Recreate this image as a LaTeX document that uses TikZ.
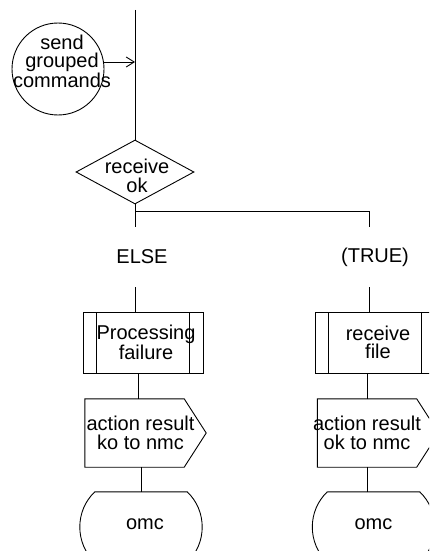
\documentclass[tikz,border=0pt]{standalone}
\usepackage{fontspec}
\setmainfont{Liberation Sans}
\usetikzlibrary{arrows.meta,shapes.geometric}
\newcommand{\sdlfont}{\fontsize{20}{18.5}\selectfont}
% outline of an output signal and of a state, drawn round a plain node
\newcommand{\sdloutput}[1]{\draw[flow] (#1.north west) -- (#1.north east) -- ([xshift=22]#1.east) -- (#1.south east) -- (#1.south west) -- cycle;}
\newcommand{\sdlstate}[1]{\draw[flow] (#1.north west) -- (#1.north east) .. controls ([xshift=20,yshift=-19]#1.north east) and ([xshift=20,yshift=19]#1.south east) .. (#1.south east) -- (#1.south west) .. controls ([xshift=-20,yshift=19]#1.south west) and ([xshift=-20,yshift=-19]#1.north west) .. (#1.north west);}
\tikzset{
  sdl/.style={draw, line width=0.9pt, inner sep=0pt},
  sdl text/.style={align=center, font=\sdlfont, inner sep=0pt},
  start sym/.style={sdl, circle, minimum size=92},
  decision sym/.style={sdl, diamond, minimum width=118, minimum height=64},
  proc sym/.style={
    sdl, rectangle, minimum width=120, minimum height=61,
    path picture={
      \draw[flow] ([xshift=13]path picture bounding box.north west) -- ([xshift=13]path picture bounding box.south west);
      \draw[flow] ([xshift=-14]path picture bounding box.north east) -- ([xshift=-14]path picture bounding box.south east);
    }
  },
  out sym/.style={rectangle, inner sep=0pt, minimum width=99, minimum height=68},
  state sym/.style={rectangle, inner sep=0pt, minimum width=92, minimum height=70},
  branch label/.style={font=\sdlfont, inner sep=0pt, minimum height=60},
  flow/.style={line width=0.9pt},
  flow arrow/.style={flow, -{Straight Barb[length=8pt,width=10pt]}}
}

\begin{document}
\begin{tikzpicture}[x=1pt,y=-1pt]
  \clip (0,0) rectangle (429,551);
  \coordinate (top) at (135,10);
  \coordinate (join) at (135,62);
  \coordinate (fork) at (135,211);
  \coordinate (rline) at (369,211);
  \node[start sym, label={[sdl text, xshift=4, yshift=8]center:send\\grouped\\commands}] (send) at (58,69) {};
  \node[decision sym, label={[sdl text, xshift=2, yshift=-4]center:receive\\ok}] (dia) at (135,172) {};
  \node[branch label] (else) at (142,257) {ELSE};
  \node[branch label] (true) at (375,257) {(TRUE)};
  \node[proc sym, label={[sdl text, xshift=3]center:Processing\\failure}] (fail) at (143,342.5) {};
  \node[proc sym, label={[sdl text, xshift=3]center:receive\\file}] (recv) at (375,342.5) {};
  \node[out sym, label={[sdl text, xshift=6]center:action result\\ko to nmc}] (outko) at (134.5,433) {};
  \node[out sym, label={[sdl text]center:action result\\ok to nmc}] (outok) at (367,433) {};
  \node[state sym, label={[sdl text, xshift=4, yshift=3]center:omc}] (omc1) at (141,527) {};
  \node[state sym, label={[sdl text, yshift=3]center:omc}] (omc2) at (373.5,527) {};
  \sdloutput{outko}
  \sdloutput{outok}
  \sdlstate{omc1}
  \sdlstate{omc2}

  \draw[flow] (top) -- (dia.north);
  \draw[flow arrow] (send.east |- join) -- (join);
  \draw[flow] (dia.south) -- (dia.south |- else.north);
  \draw[flow] (fork) -- (rline) -- (rline |- true.north);
  \draw[flow] (fork |- else.south) -- (fork |- fail.north);
  \draw[flow] (rline |- true.south) -- (rline |- recv.north);
  \draw[flow] ([xshift=-5]fail.south) -- ([xshift=-5]fail.south |- outko.north);
  \draw[flow] ([xshift=-8]recv.south) -- ([xshift=-8]recv.south |- outok.north);
  \draw[flow] (omc1.north |- outko.south) -- (omc1.north);
  \draw[flow] (outok.south) -- (outok.south |- omc2.north);
\end{tikzpicture}
\end{document}
